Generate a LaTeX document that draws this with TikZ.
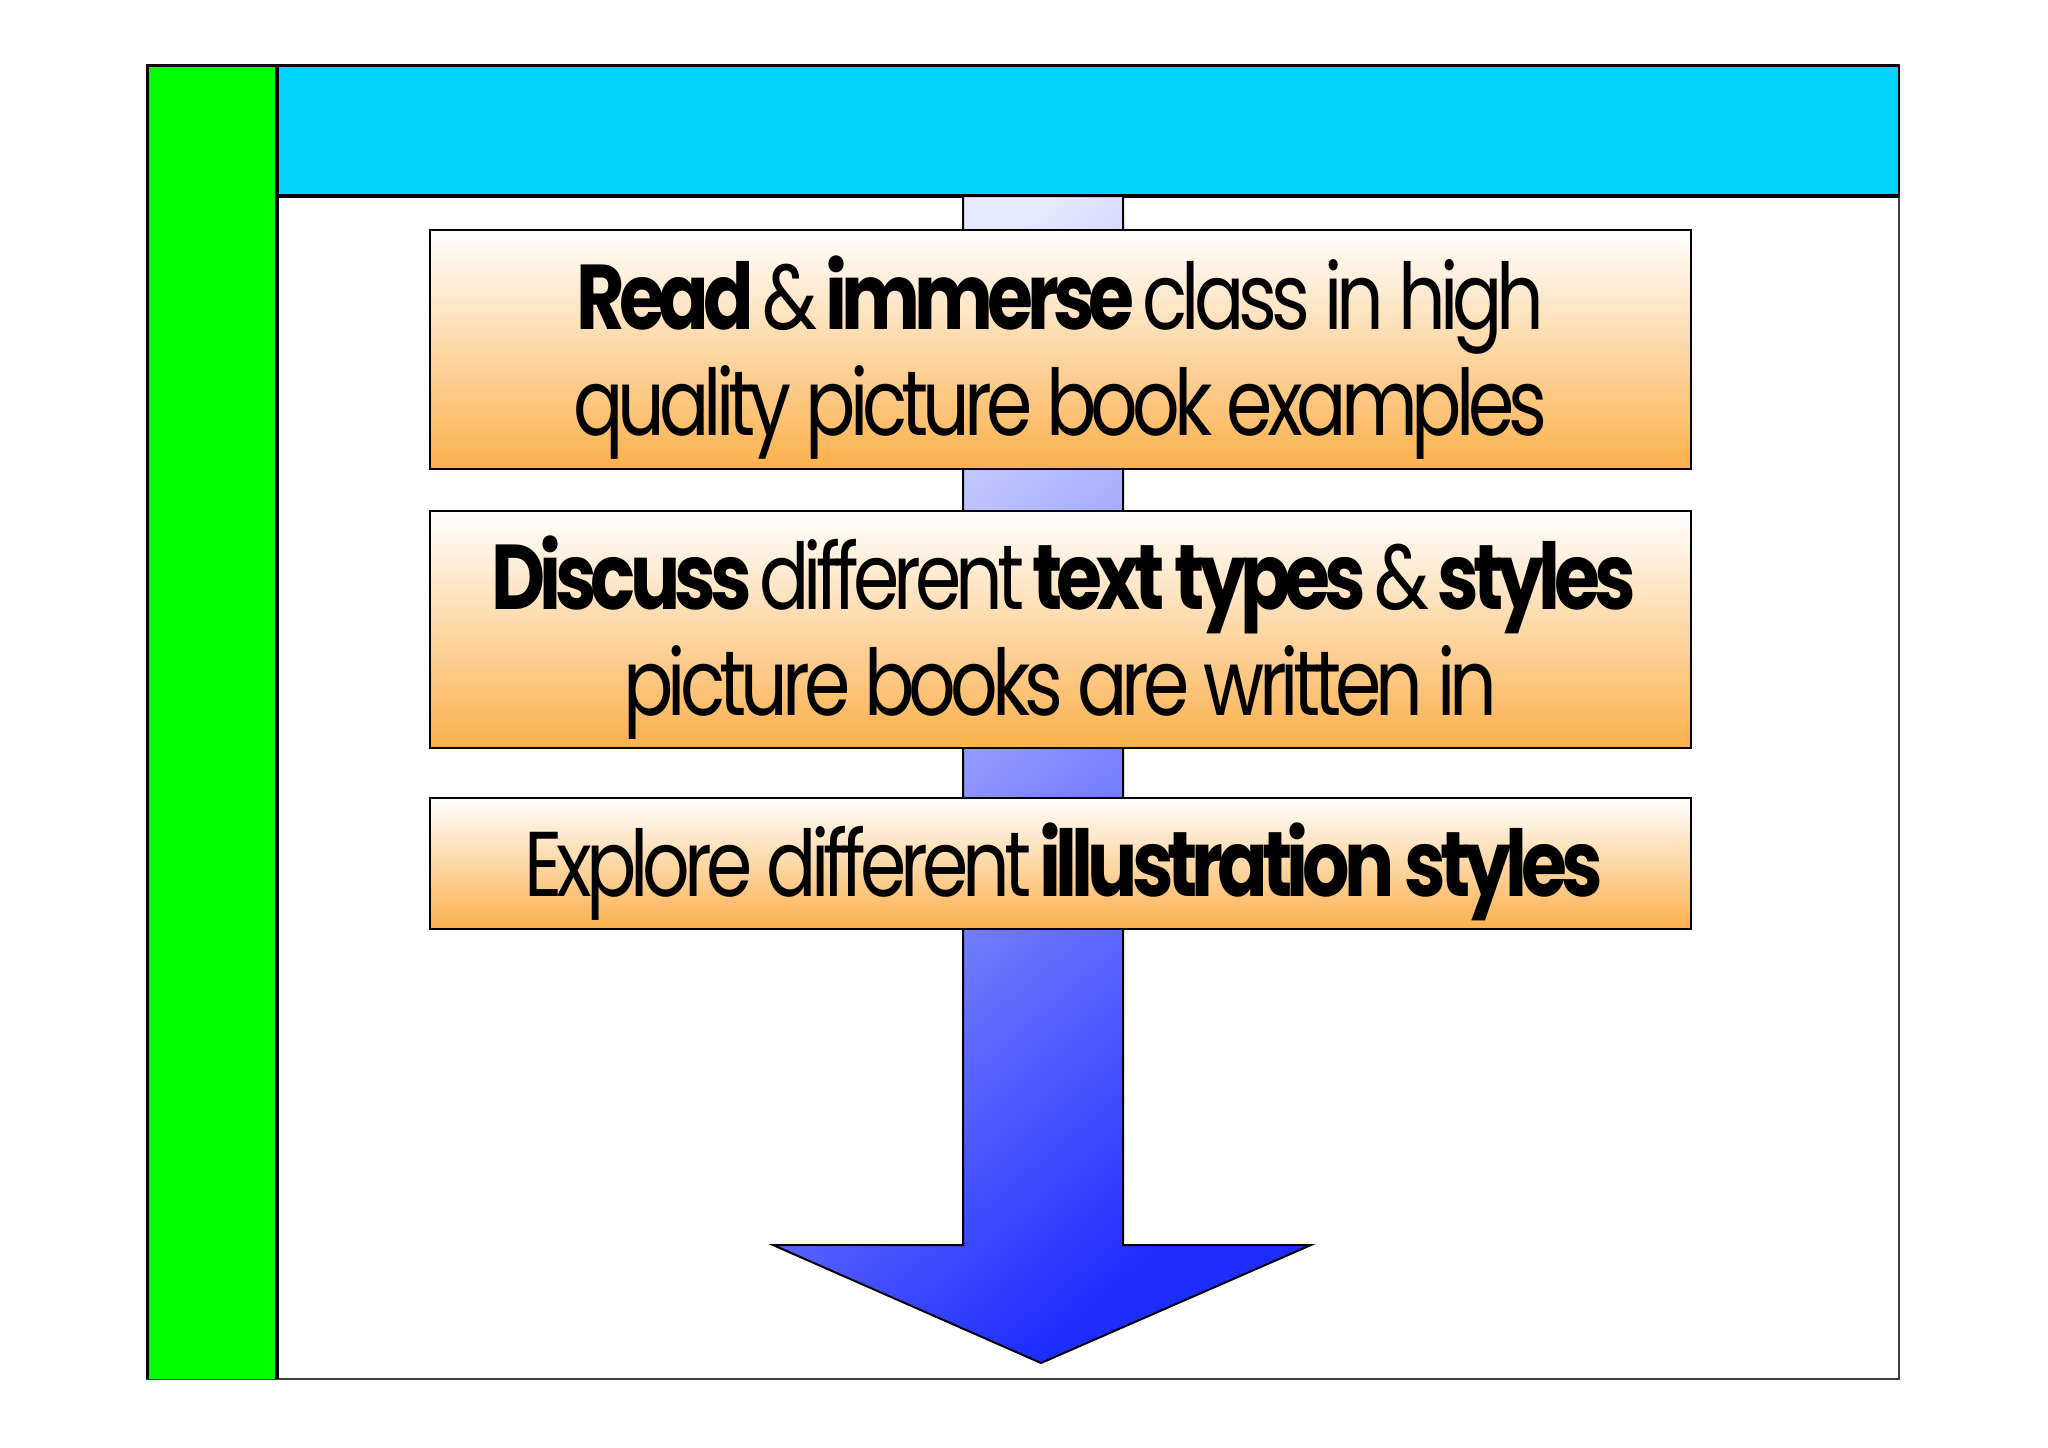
\documentclass[tikz,border=0pt]{standalone}
\usepackage{fontspec}
\setmainfont{Poppins}[LetterSpace=-8.0]
\definecolor{barcyan}{HTML}{00D4FF}
\definecolor{bargreen}{HTML}{00FF00}
\definecolor{boxorange}{HTML}{FBB04C}
\definecolor{arrowlight}{HTML}{E6E8FD}
\definecolor{arrowdark}{HTML}{1E2DFF}
\newcommand{\narrowtext}[1]{\raisebox{-6pt}[\height][\depth]{\scalebox{0.81}[1]{\begin{tabular}{@{}c@{}}#1\end{tabular}}}}
\tikzset{
  stepbox/.style={draw=black, line width=1pt, top color=white, bottom color=boxorange,
    minimum width=630.5pt, inner sep=0pt, align=center,
    font=\fontsize{46}{53}\selectfont}
}
\begin{document}
\begin{tikzpicture}[x=0.5pt,y=-0.5pt]
\useasboundingbox (0,0) rectangle (2048,1447);
\fill [white] (0,0) rectangle (2048,1447);
\draw [black!75, line width=1pt] (147,65) rectangle (1899,1379);
\fill [bargreen] (147,65) rectangle (277,1379);
\fill [barcyan] (277,65) rectangle (1899,196);
\draw [black, line width=1.5pt] (147,1379) -- (147,65) -- (1899,65);
\draw [black, line width=2pt] (277,1379) -- (277,65);
\draw [black, line width=2pt] (277,196) -- (1899,196);
\draw [black, line width=1pt] (1899,65) -- (1899,196);
\coordinate (tip) at (1041,1363);
\draw [black, line width=1pt, top color=arrowlight, bottom color=arrowdark, shading angle=40]
  (963,196) -- (1123,196) -- (1123,1245) -- (1311,1245) -- (tip)
  -- (773,1245) -- (963,1245) -- cycle;
\node [stepbox, minimum height=119.5pt] (read) at (1060.5,349.5)
  {\narrowtext{\textbf{Read} \& \textbf{immerse} class in high\\quality picture book examples}};
\node [stepbox, minimum height=118.5pt] (discuss) at (1060.5,629.5)
  {\narrowtext{\textbf{Discuss} different \textbf{text types} \& \textbf{styles}\\picture books are written in}};
\node [stepbox, minimum height=65.5pt] (explore) at (1060.5,863.5)
  {\narrowtext{Explore different \textbf{illustration styles}}};
\end{tikzpicture}
\end{document}
